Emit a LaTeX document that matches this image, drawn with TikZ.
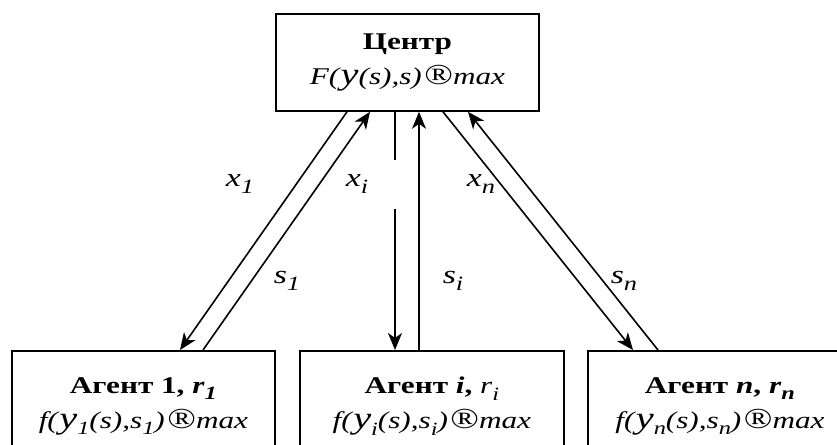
\documentclass[tikz,border=0pt]{standalone}
\usepackage{fontspec}
\setmainfont{Liberation Serif}[FakeStretch=1.3]
\usetikzlibrary{arrows.meta,calc}
% enlarged italic y and registered sign used in the objective functions
\newcommand\bigy{{\fontsize{31}{31}\selectfont\itshape y}}
\newcommand\reg{\kern2.5pt{\fontsize{29}{29}\selectfont ®}}
% lowered italic index, a little larger than a plain subscript
\newcommand\sub[1]{\raisebox{-0.28em}{\fontsize{0.78em}{1em}\selectfont\itshape #1}}

\begin{document}
\begin{tikzpicture}[x=1pt,y=-1pt,
  font=\fontsize{24}{35}\selectfont,
  box/.style={draw, line width=1.8pt, inner sep=0pt, anchor=north west},
  arr/.style={line width=1.6pt, -{Stealth[length=17pt,width=14pt,inset=5pt]}},
  lbl/.style={inner sep=0pt, font=\fontsize{26}{30}\selectfont\itshape},
  txt/.style={inner sep=0pt, anchor=north, align=center}]
\path[use as bounding box] (0,0) rectangle (837,444);
\clip (0,0) rectangle (837,444);

% centre
\node[box, minimum width=263pt, minimum height=97pt, align=center] (c) at (275,13)
  {\textbf{Центр}\\\textit{F(\kern1.5pt}\bigy\textit{(s),s)}\reg\textit{max}};

% agents (boxes run past the lower edge)
\node[box, minimum width=263pt, minimum height=130pt] (a1) at (11,350) {};
\node[box, minimum width=264pt, minimum height=130pt] (ai) at (299,350) {};
\node[box, minimum width=264pt, minimum height=130pt] (an) at (587,350) {};

\node[txt] (t1) at ($(a1.north)+(0,27)$)
  {\textbf{Агент 1, \textit{r}}\sub{\bfseries 1}\\\textit{f(\kern1.5pt}\bigy\sub{1}\textit{(s),s}\sub{1}\textit{)}\reg\textit{max}};
\node[txt] (ti) at ($(ai.north)+(0,27)$)
  {\textbf{Агент \textit{i},} \textit{r}\sub{i}\\\textit{f(\kern1.5pt}\bigy\sub{i}\textit{(s),s}\sub{i}\textit{)}\reg\textit{max}};
\node[txt] (tn) at ($(an.north)+(0,27)$)
  {\textbf{Агент \textit{n}, \textit{r}}\sub{\bfseries n}\\\textit{f(\kern1.5pt}\bigy\sub{n}\textit{(s),s}\sub{n}\textit{)}\reg\textit{max}};

% decisions down, states up
\draw[arr] ($(c.south west)+(72,0)$) -- ($(a1.north west)+(169,0)$);
\draw[arr] ($(a1.north west)+(192,0)$) -- ($(c.south west)+(95,0)$);
\draw[arr, dash pattern=on 48pt off 49pt on 300pt] ($(c.south west)+(120,0)$) -- ($(ai.north west)+(96,0)$);
\draw[arr] ($(ai.north west)+(120,0)$) -- ($(c.south west)+(144,0)$);
\draw[arr] ($(c.south west)+(168,0)$) -- ($(an.north west)+(46,0)$);
\draw[arr] ($(an.north west)+(71,0)$) -- ($(c.south west)+(193,0)$);

% labels
\node[lbl] (lx1) at (240,184) {x\sub{1}};
\node[lbl] (lxi) at (357,184) {x\sub{i}};
\node[lbl] (lxn) at (481,184) {x\sub{n}};
\node[lbl] (ls1) at (287,281) {s\sub{1}};
\node[lbl] (lsi) at (453,281) {s\sub{i}};
\node[lbl] (lsn) at (624,281) {s\sub{n}};
\end{tikzpicture}
\end{document}
